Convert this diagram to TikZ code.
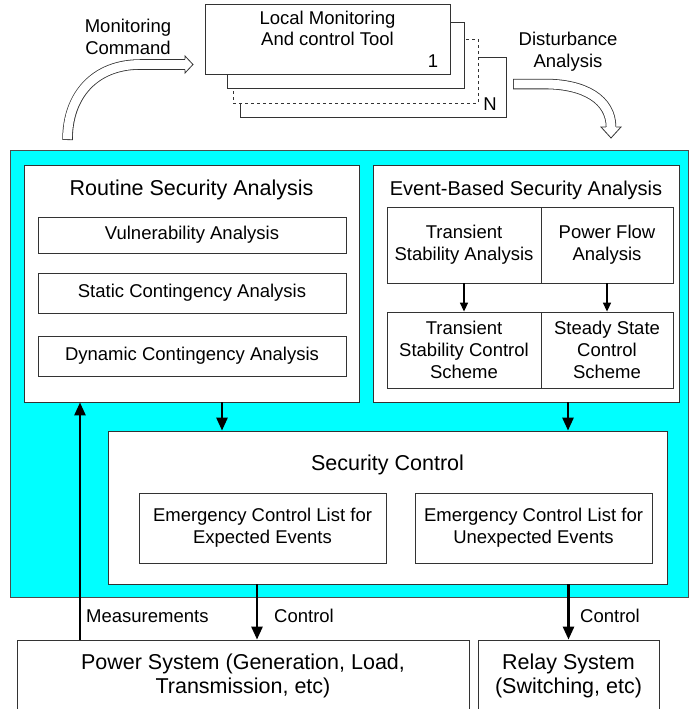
\documentclass[tikz,border=0pt]{standalone}
\usepackage{fontspec}
\setmainfont{Liberation Sans}
\usetikzlibrary{arrows.meta}

\definecolor{panel}{RGB}{0,255,255}
\newcommand{\txtsmall}{\fontsize{18.5}{22}\selectfont}
\newcommand{\txtbig}{\fontsize{21.5}{24}\selectfont}

\begin{document}
\begin{tikzpicture}[x=1pt,y=-1pt,
		box/.style={draw=black!80, line width=0.8pt, fill=white, inner sep=0pt, align=center, font=\txtsmall},
		txt/.style={inner sep=0pt, align=center, font=\txtsmall},
		bigarrow/.style={line width=2.6pt, -{Triangle[length=13pt,width=11pt]}},
		smallarrow/.style={line width=1.5pt, -{Triangle[length=9pt,width=8pt]}},
		bandout/.style={line width=10.5pt, black!80},
		bandin/.style={line width=8.9pt, white}]
	\useasboundingbox (0,0) rectangle (691,709);

	% local tools, back to front
	\node[box, minimum width=266pt, minimum height=60pt] (tool4) at (373,87) {};
	\node[box, dashed, minimum width=245pt, minimum height=64pt] (tool3) at (355.5,71) {};
	\node[box, minimum width=237pt, minimum height=66pt] (tool2) at (345.5,55) {};
	\node[box, minimum width=245pt, minimum height=70pt] (tool1) at (327.5,39) {};
	\node[txt, font=\fontsize{18.5}{21}\selectfont, anchor=base] (tooltext) at (327.5,46) {Local Monitoring\\And control Tool};
	\node[txt, anchor=base] (toolfirst) at (433,67) {1};
	\node[txt, anchor=base] (toollast) at (490,110) {N};

	\node[txt, anchor=base] (cmdtext) at (128,55) {Monitoring\\Command};
	\node[txt, anchor=base] (disttext) at (568,67) {Disturbance\\Analysis};

	% hollow arrows
	\draw[bandout] (67.5,140) .. controls (67.5,95) and (95,64.5) .. (140,64.5) -- (185,64.5);
	\draw[bandin, shorten <=0.8pt] (67.5,140) .. controls (67.5,95) and (95,64.5) .. (140,64.5) -- (185,64.5);
	\draw[fill=white, draw=black!80, line width=0.8pt] (185,59.3) -- (185,56) -- (193,64.5) -- (185,73) -- (185,69.7);

	\draw[bandout] (513,84) -- (545,84) .. controls (585,84) and (611,100) .. (611,127);
	\draw[bandin, shorten <=0.8pt] (513,84) -- (545,84) .. controls (585,84) and (611,100) .. (611,127);
	\draw[fill=white, draw=black!80, line width=0.8pt] (605.8,127) -- (601,127) -- (611,138) -- (621,127) -- (616.2,127);

	% security centre
	\draw[fill=panel, draw=black!70, line width=0.8pt] (10,150) rectangle (688,597);

	\node[box, minimum width=335pt, minimum height=237pt] (routine) at (191.5,283.5) {};
	\node[txt, font=\txtbig, anchor=base] (routinetitle) at (191.5,195) {Routine Security Analysis};
	\node[box, minimum width=308pt, minimum height=36pt] (vul) at (192,235) {Vulnerability Analysis};
	\node[box, minimum width=308pt, minimum height=40pt] (static) at (192,293) {Static Contingency Analysis};
	\node[box, minimum width=308pt, minimum height=40pt] (dyn) at (192,356) {Dynamic Contingency Analysis};

	\node[box, minimum width=306pt, minimum height=237pt] (event) at (526,283.5) {};
	\node[txt, font=\fontsize{20}{24}\selectfont, anchor=base] (eventtitle) at (526,195) {Event-Based Security Analysis};
	\node[box, minimum width=154pt, minimum height=76pt] (tsa) at (464,245) {Transient\\Stability Analysis};
	\node[box, minimum width=132pt, minimum height=76pt] (pfa) at (607,245) {Power Flow\\Analysis};
	\node[box, minimum width=154pt, minimum height=76pt] (tscs) at (464,350) {Transient\\Stability Control\\Scheme};
	\node[box, minimum width=132pt, minimum height=76pt] (sscs) at (607,350) {Steady State\\Control\\Scheme};
	\draw[smallarrow] (tsa) -- (tscs);
	\draw[smallarrow] (pfa) -- (sscs);

	\node[box, minimum width=559pt, minimum height=153pt] (secctl) at (387.5,507.5) {};
	\node[txt, font=\txtbig, anchor=base] (secctltitle) at (387.5,470) {Security Control};
	\node[box, minimum width=247pt, minimum height=70pt] (expected) at (262.5,528) {Emergency Control List for\\Expected Events};
	\node[box, minimum width=237pt, minimum height=70pt] (unexpected) at (533.5,528) {Emergency Control List for\\Unexpected Events};

	\draw[bigarrow] ([xshift=30.5pt]routine.south) -- ([xshift=30.5pt]routine.south |- secctl.north);
	\draw[bigarrow] ([xshift=42pt]event.south) -- ([xshift=42pt]event.south |- secctl.north);

	% plant
	\node[box, font=\txtbig, minimum width=452pt, minimum height=72pt] (power) at (243,676) {Power System (Generation, Load,\\Transmission, etc)};
	\node[box, font=\txtbig, minimum width=181pt, minimum height=72pt] (relay) at (568.5,676) {Relay System\\(Switching, etc)};

	\draw[bigarrow] ([xshift=-130.5pt]secctl.south) -- ([xshift=-130.5pt]secctl.south |- power.north);
	\draw[bigarrow] (secctl.south -| relay.north) -- (relay.north);
	\draw[bigarrow] ([xshift=-163pt]power.north) -- ([xshift=-163pt]power.north |- routine.south);

	\node[txt, anchor=base west] (meastext) at (86,622) {Measurements};
	\node[txt, anchor=base west] (ctrltext) at (274,622) {Control};
	\node[txt, anchor=base west] (relayctrltext) at (580,622) {Control};
\end{tikzpicture}
\end{document}
